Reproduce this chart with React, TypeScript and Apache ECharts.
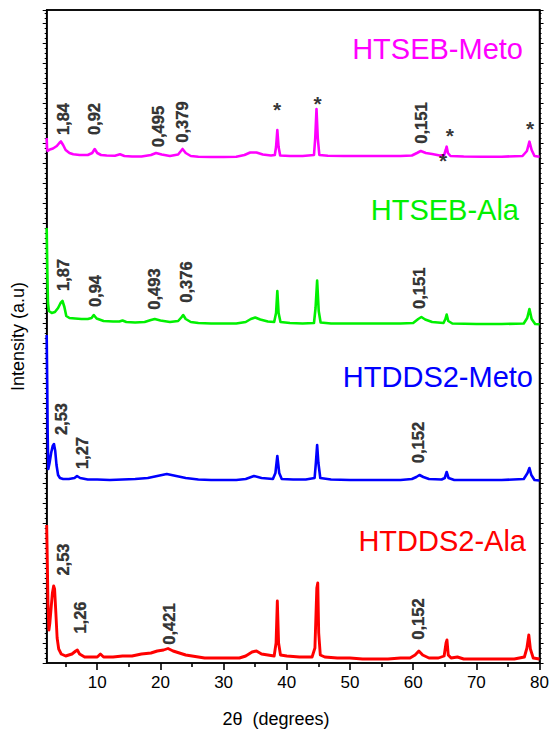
import { useEffect, useRef } from "react";
import * as echarts from "echarts";

const FONT = '"Liberation Sans", Arial, sans-serif';

const xTicks = [10, 20, 30, 40, 50, 60, 70, 80];
const xMinorTicks = [5, 15, 25, 35, 45, 55, 65, 75];

const seriesNames = ["HTSEB-Meto", "HTSEB-Ala", "HTDDS2-Meto", "HTDDS2-Ala"];
const seriesColors = ["#ff00ff", "#00f000", "#0000ff", "#ff0000"];

// [2theta, intensity (a.u., offset per pattern)]
const magentaTrace = [
  [2.0, 525], [2.05, 515], [2.15, 512], [2.5, 513.5], [3.0, 514.5], [3.6, 517], [4.0, 520], [4.25, 521.5],
  [4.6, 518], [5.0, 513], [5.6, 510], [6.2, 508.7], [7.2, 508], [8.5, 508], [9.2, 510], [9.6, 514],
  [10.0, 510], [10.6, 508], [11.5, 507.5], [12.8, 507.3], [13.6, 508.7], [14.3, 507], [15.5, 506.5],
  [17, 506.5], [18.5, 508], [19.3, 510], [20.2, 508.5], [21.5, 507], [22.8, 508.5], [23.5, 514],
  [24.0, 510], [24.8, 507], [26, 506.3], [28, 506], [30, 506], [32, 506.3], [33.3, 508], [34.2, 510.5],
  [35.2, 510.5], [36.2, 508.5], [37.5, 507.5], [38.1, 508], [38.3, 516], [38.5, 533], [38.7, 516],
  [38.95, 507.5], [40.5, 507], [42.5, 507], [44.3, 508], [44.5, 525], [44.7, 554], [44.9, 525],
  [45.15, 508], [46.5, 507.3], [49, 507], [52, 507], [55, 507], [58, 507], [59.8, 507.5], [60.6, 510],
  [61.2, 512], [62.0, 510], [63.0, 509], [64.2, 507.5], [64.9, 508], [65.15, 513], [65.3, 516.3],
  [65.5, 510], [65.9, 507], [68, 506.5], [71, 506.3], [74, 506.3], [77.3, 507], [78.0, 512],
  [78.4, 521.3], [78.75, 513], [79.2, 507], [80, 506.3],
];

const greenTrace = [
  [2.0, 435], [2.1, 390], [2.2, 360], [2.35, 352], [2.8, 350], [3.3, 351], [3.8, 355], [4.2, 360],
  [4.5, 362], [4.8, 356], [5.1, 347], [5.6, 345], [6.5, 344.5], [7.5, 344], [8.5, 344], [9.1, 345],
  [9.45, 348], [9.9, 344.5], [11, 342], [12.5, 341.5], [13.5, 341.5], [14.0, 342.5], [14.6, 341],
  [16, 340.5], [17.5, 341], [18.5, 343], [19.1, 344], [20, 342.5], [21.5, 341], [22.8, 342],
  [23.3, 345.5], [23.6, 348], [24.0, 344], [24.8, 341], [26, 340], [28, 339.5], [30, 339.5],
  [32, 339.5], [33.5, 341], [34.3, 344], [35.0, 345.5], [35.8, 343.5], [37, 341.5], [38.0, 341],
  [38.3, 350], [38.5, 372], [38.7, 350], [39.0, 341], [40.5, 340], [42.5, 339.5], [44.3, 340],
  [44.55, 355], [44.8, 382.5], [45.05, 352], [45.35, 340.5], [47, 339.5], [50, 339.5], [54, 339.5],
  [58, 339.5], [60, 340], [60.8, 344], [61.3, 346], [61.9, 343.5], [63, 341], [64.8, 340],
  [65.1, 344], [65.3, 348.5], [65.55, 342], [66.2, 339.5], [70, 339], [74, 339], [77.5, 339.5],
  [78.05, 345], [78.4, 354], [78.75, 344], [79.3, 339], [80, 338.7],
];

const blueTrace = [
  [2.0, 328], [2.08, 280], [2.15, 230], [2.25, 194], [2.45, 200], [2.7, 210], [2.95, 217], [3.15, 219],
  [3.35, 212], [3.55, 198], [3.8, 188], [4.1, 185], [4.6, 184], [5.5, 184], [6.4, 185], [6.8, 187],
  [7.3, 185], [8.5, 183.5], [10, 183.5], [12, 183], [14, 183.5], [16, 184], [18, 185], [19.5, 187],
  [21.0, 189], [22.5, 187], [24, 185], [26, 183.5], [28, 183], [30, 183], [32, 183], [33.5, 184],
  [34.8, 187], [36, 185], [37.8, 184], [38.2, 190], [38.5, 207], [38.8, 190], [39.2, 184], [41, 183.5],
  [43, 183.5], [44.4, 185], [44.6, 200], [44.8, 218], [45.0, 200], [45.3, 185], [47, 183.5], [50, 183],
  [53, 183], [56, 183], [58, 183], [59.8, 184], [60.5, 186], [61.0, 188], [61.6, 186], [62.5, 184],
  [64.5, 183.5], [65.0, 185], [65.3, 191], [65.6, 185], [66.5, 183], [70, 183], [74, 183], [77.5, 184],
  [78.1, 190], [78.4, 195], [78.7, 188], [79.2, 183], [80, 182.5],
];

const redTrace = [
  [2.0, 138], [2.1, 100], [2.2, 60], [2.35, 33], [2.5, 40], [2.7, 55], [2.9, 70], [3.1, 77], [3.25, 74],
  [3.45, 50], [3.65, 25], [3.9, 14], [4.3, 9], [5.0, 7], [6.0, 9], [6.6, 12], [6.85, 13], [7.2, 9],
  [8.0, 6], [9.0, 6], [10.0, 6], [10.5, 9], [11.0, 6], [12.5, 6], [14.0, 7], [15.5, 7], [17.0, 9],
  [18.5, 10], [19.5, 12], [20.5, 13], [21.2, 14.5], [22.0, 12], [23.0, 10], [24.0, 8], [25.0, 7],
  [27.0, 5], [29.0, 5], [31.0, 5], [32.5, 5], [33.5, 7], [34.5, 11], [35.2, 12], [36.0, 9], [37.0, 8],
  [38.0, 7], [38.3, 20], [38.5, 62], [38.7, 20], [39.0, 8], [40.0, 7], [42.0, 6], [44.0, 6],
  [44.45, 15], [44.6, 45], [44.75, 75], [44.9, 80], [45.05, 30], [45.3, 8], [46.0, 6], [48.0, 5],
  [50.0, 5], [52.0, 4], [54.0, 4], [56.0, 4], [58.0, 5], [59.5, 5], [60.3, 8], [60.9, 12], [61.5, 8],
  [62.5, 5], [64.0, 5], [64.9, 7], [65.2, 20], [65.35, 23], [65.55, 8], [66.0, 5], [67.0, 6], [68.0, 4],
  [70.0, 4], [72.0, 4], [74.0, 4], [76.0, 4], [77.6, 6], [78.0, 15], [78.3, 28], [78.55, 14], [79.0, 5],
  [80.0, 4],
];

// d-spacing annotations: [2theta, intensity, text]
const dLabels = [
  [4.52, 544, "1,84"], [9.44, 544, "0,92"], [19.55, 536.5, "0,495"], [23.48, 541, "0,379"], [61.3, 540, "0,151"],
  [4.62, 388, "1,87"], [9.6, 372, "0,94"], [19.03, 374, "0,493"], [24.0, 381, "0,376"], [60.96, 374.7, "0,151"],
  [4.25, 244, "2,53"], [7.66, 210, "1,27"], [60.7, 220.5, "0,152"],
  [4.52, 103.5, "2,53"], [7.24, 45.5, "1,26"], [21.4, 39, "0,421"], [60.8, 44, "0,152"],
];

// reflection markers: [2theta, intensity]
const starMarks = [
  [38.48, 558], [44.86, 564], [64.75, 506.3], [65.8, 531.3], [78.5, 538.7],
];

export default function App() {
  const ref = useRef<HTMLDivElement>(null);
  useEffect(() => {
    const chart = echarts.init(ref.current!, null, { renderer: "svg" });
    const traces = [magentaTrace, greenTrace, blueTrace, redTrace];
    const widths = [2.6, 2.6, 2.6, 2.9];
    const lineSeries = traces.map((d, i) => ({
      name: seriesNames[i],
      type: "line",
      data: d,
      showSymbol: false,
      symbol: "none",
      smooth: false,
      lineStyle: { color: seriesColors[i], width: widths[i], join: "round" },
      itemStyle: { color: seriesColors[i] },
      z: 2,
    }));
    const titlePos = [
      [523, 49],
      [519, 210],
      [533, 377],
      [526, 541],
    ];
    const option: any = {
      animation: false,
      grid: {
        left: 46.7,
        right: 9,
        top: 10,
        bottom: 79,
        show: true,
        borderColor: "#000",
        borderWidth: 1.6,
        backgroundColor: "transparent",
      },
      xAxis: [
        {
          type: "value",
          min: 2,
          max: 80,
          position: "bottom",
          axisLine: { show: true, lineStyle: { color: "#000", width: 1.6 } },
          axisTick: { show: true, inside: false, length: 7, customValues: xTicks, lineStyle: { color: "#000", width: 1.6 } },
          axisLabel: { show: true, customValues: xTicks, color: "#000", fontSize: 17, margin: 11, fontFamily: FONT },
          splitLine: { show: false },
        },
        {
          type: "value",
          min: 2,
          max: 80,
          position: "bottom",
          offset: 0,
          axisLine: { show: false },
          axisTick: { show: true, inside: false, length: 4, customValues: xMinorTicks, lineStyle: { color: "#000", width: 1.6 } },
          axisLabel: { show: false },
          splitLine: { show: false },
        },
        {
          type: "value",
          min: 2,
          max: 80,
          position: "top",
          offset: 0,
          axisLine: { show: true, lineStyle: { color: "#000", width: 1.6 } },
          axisTick: { show: false },
          axisLabel: { show: false },
          splitLine: { show: false },
        },
      ],
      yAxis: [
        {
          type: "value",
          min: 0,
          max: 653,
          interval: 20,
          position: "left",
          axisLine: { show: true, lineStyle: { color: "#000", width: 1.6 } },
          axisTick: { show: true, inside: false, length: 4, lineStyle: { color: "#000", width: 1 } },
          minorTick: { show: true, splitNumber: 4, length: 2, lineStyle: { color: "#000", width: 1 } },
          axisLabel: { show: false },
          splitLine: { show: false },
          name: "Intensity (a.u)",
          nameLocation: "middle",
          nameGap: 20,
          nameTextStyle: { fontSize: 18, color: "#000", fontFamily: FONT },
        },
        {
          type: "value",
          min: 0,
          max: 653,
          interval: 20,
          position: "right",
          axisLine: { show: true, lineStyle: { color: "#000", width: 1.6 } },
          axisTick: { show: true, inside: false, length: 4, lineStyle: { color: "#000", width: 1 } },
          minorTick: { show: true, splitNumber: 4, length: 2, lineStyle: { color: "#000", width: 1 } },
          axisLabel: { show: false },
          splitLine: { show: false },
        },
      ],
      series: [
        ...lineSeries,
        {
          type: "scatter",
          data: dLabels,
          symbolSize: 1,
          itemStyle: { color: "rgba(0,0,0,0)" },
          label: {
            show: true,
            position: "inside",
            rotate: 90,
            formatter: (p: any) => p.value[2],
            color: "#000",
            fontSize: 16.5,
            fontWeight: "bold",
            fontFamily: FONT,
            textBorderColor: "#000",
            textBorderWidth: 0.4,
          },
          z: 5,
          silent: true,
        },
        {
          type: "scatter",
          data: starMarks,
          symbolSize: 1,
          itemStyle: { color: "rgba(0,0,0,0)" },
          label: {
            show: true,
            position: "inside",
            formatter: "*",
            color: "#000",
            fontSize: 21,
            fontWeight: "bold",
            fontFamily: FONT,
            offset: [0, 4],
          },
          z: 5,
          silent: true,
        },
      ],
      graphic: [
        ...seriesNames.map((n, i) => ({
          type: "text",
          x: titlePos[i][0],
          y: titlePos[i][1],
          style: {
            text: n,
            fill: seriesColors[i],
            fontSize: 29,
            fontFamily: FONT,
            align: "right",
            verticalAlign: "middle",
          },
        })),
        {
          type: "text",
          x: 276,
          y: 719,
          style: {
            text: "2θ  (degrees)",
            fill: "#000",
            fontSize: 18,
            fontFamily: FONT,
            align: "center",
            verticalAlign: "middle",
          },
        },
      ],
    };
    chart.setOption(option);
    return () => chart.dispose();
  }, []);
  return <div ref={ref} style={{ position: "absolute", left: 0, top: 0, width: 552, height: 742 }} />;
}
